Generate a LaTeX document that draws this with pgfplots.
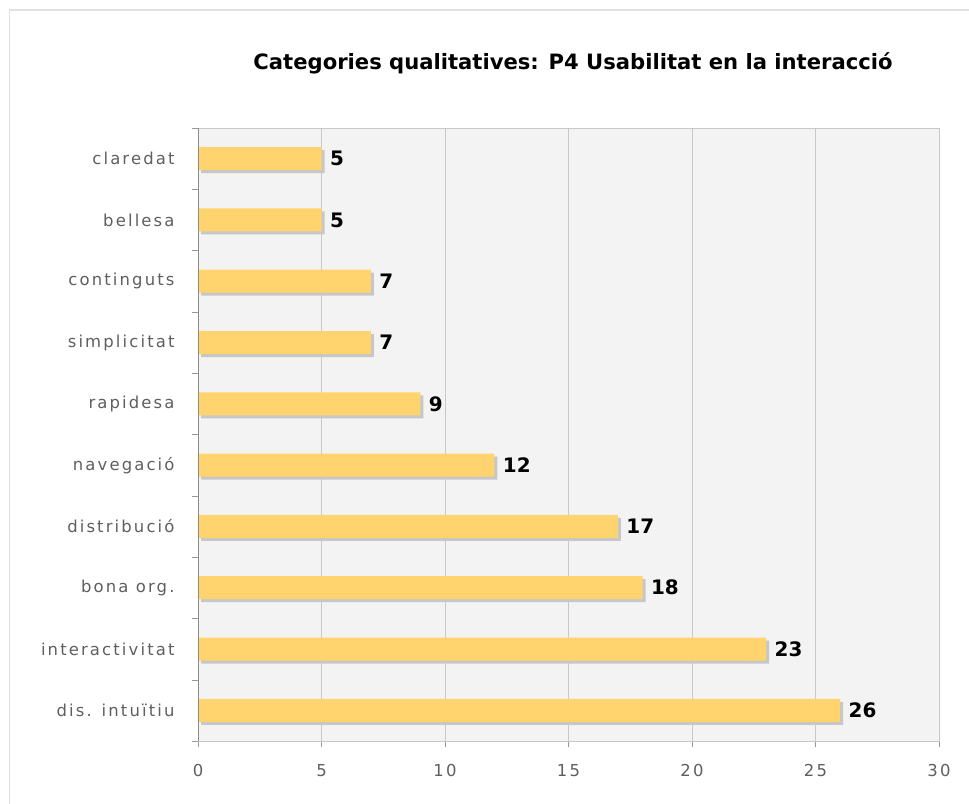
\documentclass[border=0pt]{standalone}
\usepackage{fontspec}
\setmainfont{DejaVu Sans}
\newfontfamily\tickfont[LetterSpace=13]{DejaVu Sans}
\usepackage{pgfplots}
\pgfplotsset{compat=1.18}
\definecolor{barcol}{RGB}{255,211,110}
\definecolor{plotbg}{RGB}{243,243,243}
\definecolor{gridcol}{RGB}{200,200,200}
\definecolor{labgray}{RGB}{95,95,95}
\definecolor{framecol}{RGB}{225,225,225}

\begin{document}
\begin{tikzpicture}[x=1bp,y=1bp]
\path[use as bounding box, fill=white] (0,0) rectangle (969,804);
\draw[framecol, line width=1.5bp] (9.5,0) -- (9.5,794) -- (969,794);
\node[font=\bfseries\fontsize{21.2}{24}\selectfont] at (573,741) {Categories qualitatives: P4 Usabilitat en la interacció};
\begin{axis}[
    at={(198bp,63bp)}, anchor=south west,
    scale only axis, width=741bp, height=613bp,
    xmin=0, xmax=30, ymin=-0.5, ymax=9.5,
    xbar, bar width=23bp,
    /pgf/number format/assume math mode=true,
    axis background/.style={fill=plotbg},
    axis line style={draw=gridcol},
    xmajorgrids, major x grid style={draw=gridcol},
    xtick={0,5,...,30},
    ytick={0,...,9},
    yticklabels={dis. intuïtiu, interactivitat, bona org., distribució, navegació, rapidesa, simplicitat, continguts, bellesa, claredat},
    minor ytick={-0.5,0.5,...,9.5},
    tick align=outside, tick pos=left,
    major tick length=6bp, minor tick length=6bp,
    major y tick style={draw=none},
    tick style={draw=gray!80},
    ticklabel style={font=\tickfont\fontsize{16.5}{19}\selectfont, text=labgray},
    xticklabel style={yshift=-14bp},
    yticklabel style={xshift=-14bp},
]
\addplot[fill=black!22, draw=none, bar shift=0pt, xshift=3bp, yshift=-3bp, forget plot] coordinates {
    (26,0) (23,1) (18,2) (17,3) (12,4) (9,5) (7,6) (7,7) (5,8) (5,9)
};
\addplot[fill=barcol, draw=none, bar shift=0pt,
    nodes near coords, point meta=x,
    nodes near coords style={font=\bfseries\fontsize{20}{23}\selectfont, text=black, anchor=west, xshift=5bp}] coordinates {
    (26,0) (23,1) (18,2) (17,3) (12,4) (9,5) (7,6) (7,7) (5,8) (5,9)
};
\draw[gray!90] (axis cs:0,-0.5) -- (axis cs:0,9.5);
\end{axis}
\end{tikzpicture}
\end{document}
